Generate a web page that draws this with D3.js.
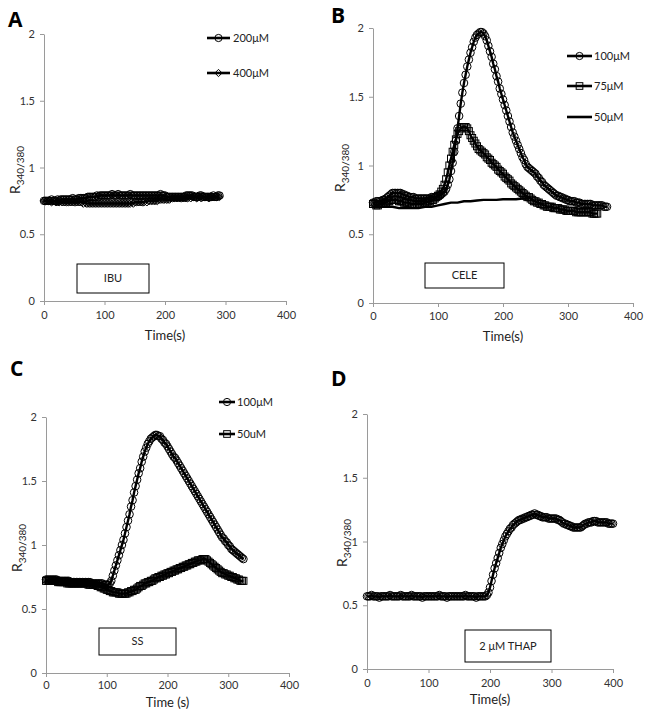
<!DOCTYPE html>
<html>
<head>
<meta charset="utf-8">
<script src="https://cdn.jsdelivr.net/npm/d3@7"></script>
<style>
  html, body { margin: 0; padding: 0; background: #fff; }
  svg { display: block; }
</style>
</head>
<body>
<svg id="chart" width="649" height="720"></svg>
<script>
// ---------------- DATA ----------------
const xTicks = [0, 100, 200, 300, 400];
const yTicks = [0, 0.5, 1, 1.5, 2];
const stepSec = 2.5;        // sampling interval of the recordings (s)
const stepSecB50 = 10;

// Panel A – IBU
const A_200uM = [0.75,0.75,0.75,0.75,0.75,0.76,0.75,0.75,0.75,0.76,
  0.75,0.76,0.76,0.76,0.76,0.76,0.76,0.76,0.76,0.77,
  0.76,0.76,0.76,0.77,0.77,0.77,0.77,0.77,0.77,0.78,
  0.78,0.78,0.78,0.78,0.78,0.79,0.78,0.79,0.79,0.79,
  0.79,0.79,0.79,0.79,0.79,0.80,0.79,0.79,0.79,0.80,
  0.79,0.79,0.79,0.79,0.79,0.79,0.79,0.80,0.79,0.79,
  0.79,0.79,0.79,0.79,0.79,0.79,0.79,0.79,0.79,0.79,
  0.79,0.79,0.79,0.79,0.79,0.79,0.79,0.80,0.79,0.79,
  0.79,0.78,0.78,0.78,0.78,0.78,0.78,0.78,0.78,0.78,
  0.78,0.78,0.78,0.78,0.79,0.79,0.79,0.79,0.79,0.78,
  0.78,0.78,0.78,0.79,0.79,0.78,0.78,0.78,0.78,0.78,
  0.78,0.78,0.79,0.78,0.78,0.79,0.79];
const A_400uM = [0.75,0.75,0.75,0.75,0.75,0.74,0.75,0.75,0.74,0.74,
  0.74,0.75,0.74,0.74,0.74,0.74,0.74,0.74,0.74,0.74,
  0.74,0.74,0.74,0.74,0.74,0.74,0.73,0.74,0.73,0.73,
  0.73,0.73,0.73,0.73,0.73,0.73,0.73,0.73,0.73,0.73,
  0.73,0.73,0.73,0.73,0.73,0.73,0.73,0.73,0.73,0.73,
  0.73,0.73,0.73,0.73,0.73,0.73,0.73,0.73,0.74,0.73,
  0.74,0.74,0.74,0.74,0.74,0.74,0.74,0.75,0.74,0.75,
  0.75,0.75,0.75,0.75,0.75,0.75,0.76,0.76,0.76,0.76,
  0.76,0.76,0.76,0.76,0.77,0.77,0.77,0.77,0.77,0.77,
  0.77,0.77,0.77,0.77,0.77,0.77,0.78,0.77,0.78,0.78,
  0.78,0.77,0.78,0.78,0.77,0.78,0.78,0.78,0.78,0.77,
  0.78,0.78,0.78,0.78,0.78,0.78,0.78];

// Panel B – CELE
const B_100uM = [0.73,0.73,0.74,0.74,0.74,0.74,0.75,0.75,0.76,0.77,
  0.78,0.79,0.80,0.80,0.80,0.80,0.80,0.80,0.79,0.79,
  0.78,0.78,0.77,0.77,0.77,0.77,0.76,0.76,0.76,0.76,
  0.76,0.76,0.76,0.76,0.76,0.76,0.77,0.77,0.77,0.77,
  0.78,0.78,0.79,0.80,0.81,0.83,0.86,0.90,0.96,1.02,
  1.10,1.18,1.27,1.36,1.45,1.53,1.60,1.66,1.72,1.77,
  1.82,1.86,1.90,1.93,1.95,1.96,1.97,1.97,1.96,1.94,
  1.91,1.87,1.83,1.79,1.74,1.70,1.65,1.61,1.56,1.52,
  1.48,1.44,1.40,1.36,1.32,1.28,1.24,1.21,1.18,1.15,
  1.12,1.09,1.06,1.04,1.01,0.99,0.98,0.97,0.96,0.95,
  0.94,0.92,0.91,0.89,0.88,0.86,0.85,0.84,0.83,0.82,
  0.81,0.80,0.79,0.78,0.78,0.77,0.77,0.76,0.76,0.75,
  0.75,0.74,0.74,0.74,0.74,0.73,0.73,0.73,0.72,0.72,
  0.72,0.72,0.72,0.72,0.72,0.71,0.71,0.71,0.71,0.71,
  0.71,0.71,0.70,0.70,0.70];
const B_75uM = [0.72,0.72,0.71,0.71,0.72,0.72,0.72,0.73,0.73,0.74,
  0.74,0.75,0.75,0.75,0.75,0.75,0.74,0.74,0.74,0.73,
  0.73,0.73,0.73,0.72,0.72,0.72,0.72,0.72,0.72,0.72,
  0.72,0.72,0.73,0.73,0.74,0.74,0.75,0.75,0.76,0.77,
  0.78,0.79,0.81,0.83,0.86,0.90,0.95,1.00,1.05,1.10,
  1.15,1.19,1.23,1.25,1.27,1.28,1.28,1.28,1.27,1.25,
  1.22,1.20,1.18,1.16,1.14,1.12,1.11,1.10,1.09,1.08,
  1.06,1.05,1.04,1.02,1.01,1.00,0.99,0.97,0.96,0.95,
  0.94,0.92,0.91,0.90,0.89,0.87,0.86,0.85,0.84,0.83,
  0.82,0.81,0.80,0.79,0.78,0.77,0.77,0.76,0.75,0.74,
  0.74,0.73,0.73,0.72,0.72,0.71,0.71,0.70,0.70,0.70,
  0.70,0.69,0.69,0.69,0.69,0.68,0.68,0.68,0.68,0.67,
  0.67,0.67,0.67,0.67,0.67,0.66,0.66,0.66,0.66,0.66,
  0.66,0.66,0.66,0.66,0.66,0.65,0.65,0.65,0.65];
const B_50uM = [0.70,0.70,0.70,0.70,0.69,0.69,0.69,0.69,0.70,0.70,
  0.71,0.72,0.73,0.73,0.74,0.74,0.745,0.75,0.75,0.75,
  0.755,0.755,0.755,0.76,0.76];

// Panel C – SS
const C_100uM = [0.73,0.73,0.73,0.73,0.73,0.73,0.73,0.73,0.72,0.72,
  0.72,0.72,0.72,0.72,0.72,0.72,0.71,0.71,0.71,0.71,
  0.71,0.71,0.71,0.71,0.71,0.71,0.71,0.71,0.71,0.71,
  0.70,0.70,0.70,0.70,0.70,0.70,0.70,0.70,0.69,0.69,
  0.69,0.69,0.70,0.72,0.76,0.80,0.84,0.88,0.92,0.96,
  1.00,1.04,1.09,1.14,1.19,1.24,1.30,1.35,1.41,1.46,
  1.51,1.56,1.60,1.65,1.69,1.73,1.76,1.79,1.81,1.83,
  1.84,1.85,1.86,1.86,1.85,1.85,1.83,1.82,1.80,1.79,
  1.77,1.75,1.73,1.71,1.69,1.68,1.66,1.64,1.62,1.60,
  1.58,1.56,1.54,1.52,1.50,1.48,1.46,1.44,1.42,1.40,
  1.38,1.36,1.34,1.32,1.30,1.28,1.26,1.24,1.22,1.20,
  1.18,1.16,1.14,1.12,1.10,1.08,1.06,1.05,1.03,1.02,
  1.00,0.99,0.97,0.96,0.95,0.94,0.93,0.92,0.91,0.90,0.89];
const C_50uM = [0.72,0.72,0.72,0.72,0.72,0.72,0.72,0.72,0.71,0.71,
  0.71,0.71,0.71,0.71,0.70,0.70,0.70,0.70,0.70,0.70,
  0.70,0.70,0.70,0.70,0.70,0.70,0.70,0.70,0.69,0.69,
  0.69,0.69,0.69,0.69,0.68,0.68,0.67,0.67,0.66,0.66,
  0.65,0.65,0.64,0.64,0.63,0.63,0.63,0.63,0.62,0.62,
  0.62,0.62,0.62,0.62,0.63,0.63,0.64,0.64,0.65,0.65,
  0.66,0.67,0.68,0.68,0.69,0.70,0.70,0.71,0.71,0.72,
  0.72,0.73,0.74,0.74,0.75,0.75,0.76,0.76,0.77,0.77,
  0.78,0.78,0.79,0.79,0.80,0.80,0.81,0.81,0.82,0.82,
  0.83,0.83,0.84,0.84,0.85,0.85,0.86,0.86,0.87,0.87,
  0.88,0.88,0.88,0.89,0.89,0.89,0.88,0.87,0.86,0.85,
  0.84,0.83,0.82,0.81,0.80,0.79,0.78,0.78,0.77,0.77,
  0.76,0.76,0.75,0.75,0.74,0.74,0.73,0.73,0.72,0.72,0.72];

// Panel D – 2 µM THAP
const D_THAP = [0.57,0.57,0.57,0.58,0.57,0.57,0.57,0.57,0.56,0.57,
  0.57,0.57,0.57,0.57,0.57,0.58,0.57,0.57,0.57,0.57,
  0.57,0.57,0.58,0.57,0.57,0.57,0.57,0.57,0.57,0.58,
  0.57,0.57,0.57,0.57,0.57,0.57,0.56,0.57,0.57,0.57,
  0.57,0.57,0.57,0.57,0.57,0.57,0.57,0.58,0.57,0.57,
  0.57,0.57,0.56,0.57,0.57,0.57,0.57,0.57,0.57,0.57,
  0.57,0.57,0.57,0.57,0.58,0.57,0.57,0.57,0.57,0.57,
  0.57,0.56,0.57,0.57,0.57,0.57,0.57,0.57,0.58,0.60,
  0.64,0.69,0.74,0.79,0.83,0.87,0.91,0.95,0.98,1.01,
  1.04,1.06,1.08,1.10,1.11,1.13,1.14,1.15,1.16,1.17,
  1.17,1.18,1.18,1.19,1.19,1.20,1.20,1.21,1.21,1.22,
  1.21,1.21,1.20,1.20,1.19,1.19,1.19,1.19,1.18,1.18,
  1.18,1.18,1.18,1.18,1.17,1.17,1.16,1.15,1.14,1.14,
  1.13,1.13,1.12,1.12,1.11,1.11,1.11,1.11,1.11,1.11,
  1.12,1.13,1.14,1.14,1.15,1.15,1.15,1.16,1.16,1.16,
  1.15,1.15,1.15,1.15,1.15,1.15,1.15,1.14,1.14,1.14,
  1.14];

const panelLetters = ["A", "B", "C", "D"];
const boxLabels = ["IBU", "CELE", "SS", "2 μM THAP"];
const xTitles = ["Time(s)", "Time(s)", "Time (s)", "Time(s)"];
const legendA = ["200μM", "400μM"];
const legendB = ["100μM", "75μM", "50μM"];
const legendC = ["100μM", "50uM"];

// ---------------- DRAW ----------------
const FONT = "Lato, 'Open Sans', sans-serif";
const svg = d3.select("#chart");

const toPts = (vals, step) => vals.map((v, i) => ({t: i * step, v}));

const panels = [
  { letter: panelLetters[0], lx: 8, ly: 27,
    xr: [44, 286], yr: [301, 34], yTitleX: 14, yTitleY: 170, xTitle: xTitles[0], xTitleY: 340, tickPad: 6,
    box: {x0: 77, y0: 264, x1: 149, y1: 293, text: boxLabels[0]},
    series: [
      {name: legendA[0], data: toPts(A_200uM, stepSec), marker: "circle", line: true},
      {name: legendA[1], data: toPts(A_400uM, stepSec), marker: "diamond", line: true}],
    legend: {x0: 207, x1: 230, tx: 233, ys: [38, 73]} },
  { letter: panelLetters[1], lx: 331, ly: 23,
    xr: [373, 633], yr: [303, 28], yTitleX: 339, yTitleY: 168, xTitle: xTitles[1], xTitleY: 341, tickPad: 5,
    box: {x0: 425, y0: 263, x1: 504, y1: 288, text: boxLabels[1]},
    series: [
      {name: legendB[0], data: toPts(B_100uM, stepSec), marker: "circle", line: true},
      {name: legendB[1], data: toPts(B_75uM, stepSec), marker: "square", line: true},
      {name: legendB[2], data: toPts(B_50uM, stepSecB50), marker: null, line: true}],
    legend: {x0: 567, x1: 592, tx: 594, ys: [56, 86, 117]} },
  { letter: panelLetters[2], lx: 10, ly: 376,
    xr: [46, 289], yr: [673, 417], yTitleX: 16, yTitleY: 548, xTitle: xTitles[2], xTitleY: 707, tickPad: 4,
    box: {x0: 99, y0: 628, x1: 176, y1: 655, text: boxLabels[2]},
    series: [
      {name: legendC[0], data: toPts(C_100uM, stepSec), marker: "circle", line: true},
      {name: legendC[1], data: toPts(C_50uM, stepSec), marker: "square", line: true}],
    legend: {x0: 219, x1: 235, tx: 237, ys: [402, 434]} },
  { letter: panelLetters[3], lx: 331, ly: 386,
    xr: [367, 613], yr: [669, 414], yTitleX: 341, yTitleY: 543, xTitle: xTitles[3], xTitleY: 704, tickPad: 6,
    box: {x0: 465, y0: 630, x1: 551, y1: 662, text: boxLabels[3]},
    series: [
      {name: "THAP", data: toPts(D_THAP, stepSec), marker: "circle", line: true}],
    legend: null }
];

function drawMarker(sel, type, cx, cy, scale) {
  const k = scale || 1;
  if (type === "circle") {
    sel.append("circle").attr("cx", cx).attr("cy", cy).attr("r", 3.8 * k)
      .attr("fill", "none").attr("stroke", "#000").attr("stroke-width", 1.0);
  } else if (type === "square") {
    const h = 3.5 * k;
    sel.append("rect").attr("x", cx - h).attr("y", cy - h).attr("width", 2 * h).attr("height", 2 * h)
      .attr("fill", "none").attr("stroke", "#000").attr("stroke-width", 1.0);
  } else if (type === "diamond") {
    const h = 3.8 * k;
    sel.append("path").attr("d", `M${cx},${cy-h}L${cx+h},${cy}L${cx},${cy+h}L${cx-h},${cy}Z`)
      .attr("fill", "none").attr("stroke", "#000").attr("stroke-width", 1.0);
  }
}

panels.forEach(p => {
  const g = svg.append("g");
  const x = d3.scaleLinear().domain([0, 400]).range(p.xr);
  const y = d3.scaleLinear().domain([0, 2]).range(p.yr);

  // axes
  const xa = g.append("g").attr("transform", `translate(0,${p.yr[0]})`)
    .call(d3.axisBottom(x).tickValues(xTicks).tickSize(4).tickSizeOuter(0).tickPadding(p.tickPad).tickFormat(d => String(d)));
  const ya = g.append("g").attr("transform", `translate(${p.xr[0]},0)`)
    .call(d3.axisLeft(y).tickValues(yTicks).tickSize(4).tickSizeOuter(0).tickPadding(5).tickFormat(d => String(d)));
  [xa, ya].forEach(a => {
    a.select(".domain").attr("stroke", "#9a9a9a");
    a.selectAll(".tick line").attr("stroke", "#9a9a9a");
    a.selectAll(".tick text").attr("fill", "#333").style("font-family", FONT).style("font-size", "11px");
  });

  // series
  const line = d3.line().x(d => x(d.t)).y(d => y(d.v));
  p.series.forEach(s => {
    if (s.line) {
      g.append("path").datum(s.data).attr("d", line)
        .attr("fill", "none").attr("stroke", "#000").attr("stroke-width", 2.4).attr("stroke-linejoin", "round");
    }
    if (s.marker) {
      const mg = g.append("g");
      s.data.forEach(d => drawMarker(mg, s.marker, x(d.t), y(d.v)));
    }
  });

  // legend
  if (p.legend) {
    p.series.forEach((s, i) => {
      const ly = p.legend.ys[i];
      g.append("line").attr("x1", p.legend.x0).attr("x2", p.legend.x1).attr("y1", ly).attr("y2", ly)
        .attr("stroke", "#000").attr("stroke-width", 2.6);
      if (s.marker) drawMarker(g, s.marker, (p.legend.x0 + p.legend.x1) / 2, ly, 0.95);
      g.append("text").attr("x", p.legend.tx).attr("y", ly).attr("dy", "0.35em")
        .style("font-family", FONT).style("font-size", "11px").attr("fill", "#222").text(s.name);
    });
  }

  // stimulus box
  g.append("rect").attr("x", p.box.x0).attr("y", p.box.y0)
    .attr("width", p.box.x1 - p.box.x0).attr("height", p.box.y1 - p.box.y0)
    .attr("fill", "#fff").attr("stroke", "#000").attr("stroke-width", 1);
  g.append("text").attr("x", (p.box.x0 + p.box.x1) / 2).attr("y", (p.box.y0 + p.box.y1) / 2)
    .attr("dy", "0.35em").attr("text-anchor", "middle")
    .style("font-family", FONT).style("font-size", "11px").attr("fill", "#222").text(p.box.text);

  // axis titles
  g.append("text").attr("x", (p.xr[0] + p.xr[1]) / 2).attr("y", p.xTitleY).attr("text-anchor", "middle")
    .style("font-family", FONT).style("font-size", "13px").attr("fill", "#222").text(p.xTitle);
  const yt = g.append("text").attr("transform", `translate(${p.yTitleX},${p.yTitleY}) rotate(-90)`)
    .attr("text-anchor", "middle").attr("dy", "0.35em")
    .style("font-family", FONT).attr("fill", "#222");
  yt.append("tspan").style("font-size", "14px").text("R");
  yt.append("tspan").style("font-size", "10px").attr("dy", "4").text("340/380");

  // panel letter
  g.append("text").attr("x", p.lx).attr("y", p.ly)
    .style("font-family", "'Open Sans', Lato, sans-serif").style("font-weight", "bold").style("font-size", "21px")
    .attr("fill", "#000").text(p.letter);
});
</script>
</body>
</html>
